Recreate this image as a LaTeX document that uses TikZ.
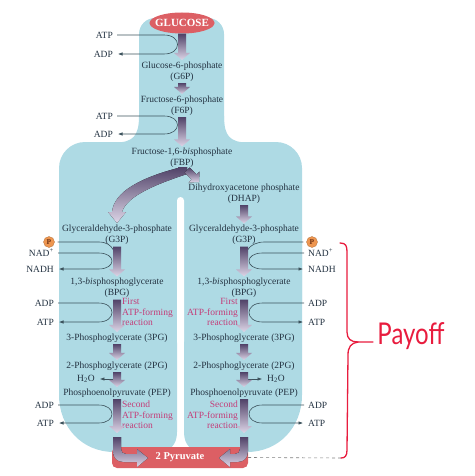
\documentclass[tikz,border=0pt]{standalone}
\usepackage{fontspec}
\setmainfont{Liberation Serif}
\newfontfamily\handfont{Lato}
\usetikzlibrary{shapes.geometric,arrows.meta,calc}

\definecolor{bgblue}{RGB}{174,218,228}
\definecolor{glured}{RGB}{220,95,100}
\definecolor{textc}{RGB}{35,50,65}
\definecolor{pinkt}{RGB}{196,60,120}
\definecolor{linec}{RGB}{60,82,92}
\definecolor{arrtop}{RGB}{80,66,104}
\definecolor{arrbot}{RGB}{222,214,232}
\definecolor{porange}{RGB}{238,150,80}
\definecolor{pbrown}{RGB}{110,50,20}
\definecolor{payred}{RGB}{232,28,62}

\tikzset{
  chem/.style={font=\fontsize{9.5}{11}\selectfont, text=textc, align=center, inner sep=1.5pt},
  side/.style={font=\fontsize{9.5}{11}\selectfont, text=textc, inner sep=1pt},
  pinklab/.style={font=\fontsize{9.5}{10.3}\selectfont, text=pinkt, inner sep=0pt},
  cycline/.style={draw=linec, line width=0.6pt, shorten <=3pt},
  cyctip/.style={cycline, -{Latex[length=4.5pt,width=3.5pt]}, shorten >=4pt},
  fatarr/.style={top color=arrtop, bottom color=arrbot},
  phos/.style={circle, fill=porange, draw=porange!75!black, line width=0.3pt,
    minimum size=11pt, inner sep=0pt, font=\fontsize{7.5}{7.5}\selectfont\bfseries, text=pbrown},
  glu/.style={ellipse, fill=glured, text=white, minimum width=65pt, minimum height=21pt,
    inner sep=0pt, font=\fontsize{11}{11}\selectfont\bfseries},
  pyrbar/.style={rectangle, rounded corners=5pt, fill=glured, text=white, minimum width=136pt,
    minimum height=21pt, font=\fontsize{10.5}{10.5}\selectfont\bfseries},
  payline/.style={draw=payred, line width=1.3pt, line cap=round},
}

% vertical gradient arrow from #1 down to #2
\newcommand{\fatarrow}[2]{%
  \path[fatarr] let \p1=#1, \p2=#2 in
    (\x1-4pt,\y1) -- (\x1+4pt,\y1) -- (\x1+4pt,\y2+7pt) -- (\x1+8pt,\y2+7pt)
    -- (\x1,\y2) -- (\x1-8pt,\y2+7pt) -- (\x1-4pt,\y2+7pt) -- cycle;}

\begin{document}
\begin{tikzpicture}[x=1pt,y=-1pt]
  \useasboundingbox (0,0) rectangle (474,476);

  % blue background
  \fill[bgblue, rounded corners=16] (139,160) -- (139,18) -- (224,18) -- (224,160) -- cycle;
  \fill[bgblue, rounded corners=26] (59,330) -- (59,142) -- (302,142) -- (302,330) -- cycle;
  \fill[bgblue] (139,116) .. controls (139,136) and (133,142.5) .. (115,142.5) -- (139,142.5) -- cycle;
  \fill[bgblue] (224,116) .. controls (224,136) and (230,142.5) .. (248,142.5) -- (224,142.5) -- cycle;
  \fill[bgblue] (59,230) -- (59,395) .. controls (59,427) and (82,452) .. (114,452) -- (157,452)
    .. controls (170,452) and (177,445) .. (177,432) -- (177,230) -- cycle;
  \fill[bgblue] (302,230) -- (302,395) .. controls (302,427) and (279,452) .. (247,452) -- (204,452)
    .. controls (191,452) and (184,445) .. (184,432) -- (184,230) -- cycle;
  \fill[white, rounded corners=3.5] (177,197) rectangle (184,345);

  % compounds
  \node[glu] (glucose) at (182,23) {\makebox[0pt]{GLUCOSE}};
  \node[chem] (g6p) at (182,71.5) {Glucose-6-phosphate\\(G6P)};
  \node[chem] (f6p) at (182,105.5) {Fructose-6-phosphate\\(F6P)};
  \node[chem] (fbp) at (182,158) {Fructose-1,6-\textit{bis}phosphate\\(FBP)};
  \node[chem] (dhap) at (244,193.5) {Dihydroxyacetone phosphate\\(DHAP)};
  \node[chem] (g3pl) at (117,235) {Glyceraldehyde-3-phosphate\\(G3P)};
  \node[chem] (g3pr) at (244,235) {Glyceraldehyde-3-phosphate\\(G3P)};
  \node[chem] (bpgl) at (117,288) {1,3-\textit{bis}phosphoglycerate\\(BPG)};
  \node[chem] (bpgr) at (244,288) {1,3-\textit{bis}phosphoglycerate\\(BPG)};
  \node[chem] (p3l) at (117,338) {3-Phosphoglycerate (3PG)};
  \node[chem] (p3r) at (244,338) {3-Phosphoglycerate (3PG)};
  \node[chem] (p2l) at (117,366) {2-Phosphoglycerate (2PG)};
  \node[chem] (p2r) at (244,366) {2-Phosphoglycerate (2PG)};
  \node[chem] (pepl) at (117,393) {Phosphoenolpyruvate (PEP)};
  \node[chem] (pepr) at (244,393) {Phosphoenolpyruvate (PEP)};
  \node[pyrbar] (pyr) at (180,457.5) {2 Pyruvate};
  \coordinate (endl) at (117,433);
  \coordinate (endr) at (244,433);

  % side products
  \node[side, anchor=east] (atp1) at (114,35) {ATP};
  \node[side, anchor=east] (adp1) at (114,54) {ADP};
  \node[side, anchor=east] (atp2) at (114,116) {ATP};
  \node[side, anchor=east] (adp2) at (114,134) {ADP};
  \node[phos] (pl) at (49,242) {P};
  \node[side, anchor=east] (nadl) at (55,253) {NAD\textsuperscript{+}};
  \node[side, anchor=east] (nadhl) at (55,269) {NADH};
  \node[side, anchor=east] (adpl1) at (55,303) {ADP};
  \node[side, anchor=east] (atpl1) at (55,322) {ATP};
  \node[side] (h2ol) at (86,379) {H\textsubscript{2}O};
  \node[side, anchor=east] (adpl2) at (55,405) {ADP};
  \node[side, anchor=east] (atpl2) at (55,423) {ATP};
  \node[phos] (pr) at (312,242) {P};
  \node[side, anchor=west] (nadr) at (307,253) {NAD\textsuperscript{+}};
  \node[side, anchor=west] (nadhr) at (307,269) {NADH};
  \node[side, anchor=west] (adpr1) at (307,303) {ADP};
  \node[side, anchor=west] (atpr1) at (307,322) {ATP};
  \node[side] (h2or) at (276,379) {H\textsubscript{2}O};
  \node[side, anchor=west] (adpr2) at (307,405) {ADP};
  \node[side, anchor=west] (atpr2) at (307,423) {ATP};

  \node[pinklab, anchor=west, align=left] (firstl) at (122,312) {First\\ATP-forming\\reaction};
  \node[pinklab, anchor=east, align=right] (firstr) at (238,312) {First\\ATP-forming\\reaction};
  \node[pinklab, anchor=west, align=left] (secondl) at (122,415) {Second\\ATP-forming\\reaction};
  \node[pinklab, anchor=east, align=right] (secondr) at (238,415) {Second\\ATP-forming\\reaction};

  % coupled reactions
  \draw[cyctip] (atp1.east) -- ++(50,0) .. controls +(18,0) and +(18,0) .. ($(adp1.east)+(50,0)$) -- (adp1.east);
  \draw[cyctip] (atp2.east) -- ++(50,0) .. controls +(18,0) and +(18,0) .. ($(adp2.east)+(50,0)$) -- (adp2.east);
  \draw[cycline] (pl.east) -- ++(44,0) .. controls +(8,0) and +(-2,-4) .. ($(g3pl.south)+(-4,3)$);
  \draw[cyctip] (nadl.east) -- ++(43.5,0) .. controls +(18,0) and +(18,0) .. ($(nadhl.east)+(43.5,0)$) -- (nadhl.east);
  \draw[cyctip] (adpl1.east) -- ++(43.5,0) .. controls +(18,0) and +(18,0) .. ($(atpl1.east)+(43.5,0)$) -- (atpl1.east);
  \draw[cyctip] (adpl2.east) -- ++(43.5,0) .. controls +(18,0) and +(18,0) .. ($(atpl2.east)+(43.5,0)$) -- (atpl2.east);
  \draw[cycline] (pr.west) -- ++(-42,0) .. controls +(-8,0) and +(2,-4) .. ($(g3pr.south)+(4,3)$);
  \draw[cyctip] (nadr.west) -- ++(-44.5,0) .. controls +(-18,0) and +(-18,0) .. ($(nadhr.west)+(-44.5,0)$) -- (nadhr.west);
  \draw[cyctip] (adpr1.west) -- ++(-44.5,0) .. controls +(-18,0) and +(-18,0) .. ($(atpr1.west)+(-44.5,0)$) -- (atpr1.west);
  \draw[cyctip] (adpr2.west) -- ++(-44.5,0) .. controls +(-18,0) and +(-18,0) .. ($(atpr2.west)+(-44.5,0)$) -- (atpr2.west);
  \draw[cyctip, shorten <=0pt] ($(p2l.south |- h2ol.east)+(-4,0)$) -- (h2ol.east);
  \draw[cyctip, shorten <=0pt] ($(p2r.south |- h2or.west)+(4,0)$) -- (h2or.west);

  % main arrows
  \fatarrow{(glucose.south)}{(g6p.north)}
  \fatarrow{(g6p.south)}{(f6p.north)}
  \fatarrow{(f6p.south)}{(fbp.north)}
  \fatarrow{(dhap.south)}{(g3pr.north)}
  \fatarrow{(g3pl.south)}{(bpgl.north)}
  \fatarrow{(g3pr.south)}{(bpgr.north)}
  \fatarrow{(bpgl.south)}{(p3l.north)}
  \fatarrow{(bpgr.south)}{(p3r.north)}
  \fatarrow{(p3l.south)}{(p2l.north)}
  \fatarrow{(p3r.south)}{(p2r.north)}
  \fatarrow{(p2l.south)}{(pepl.north)}
  \fatarrow{(p2r.south)}{(pepr.north)}
  \fatarrow{(pepl.south)}{(endl)}
  \fatarrow{(pepr.south)}{(endr)}

  % split of FBP
  \fill[fatarr] (178,167) -- (187,167) -- (187,174) .. controls (160,183) and (127,195) .. (122,212)
    -- (126,212) -- (117,223) -- (108,212) -- (112,212) .. controls (114,192) and (140,178) .. (178,168) -- cycle;
  \fill[fatarr] (189.5,167.5) -- (196.5,174.5) -- (199.5,171.5) -- (199,182) -- (188.5,182.5)
    -- (191.5,179.5) -- (184.5,172.5) -- cycle;

  % into pyruvate
  \fill[fatarr] (113,437) -- (121,437) -- (121,449) .. controls (121,452) and (123,454) .. (126,454)
    -- (137,454) -- (137,449) -- (148,458) -- (137,467) -- (137,462) -- (124,462)
    .. controls (117,462) and (113,458) .. (113,451) -- cycle;
  \fill[fatarr] (248,437) -- (240,437) -- (240,449) .. controls (240,452) and (238,454) .. (235,454)
    -- (230,454) -- (230,449) -- (219,458) -- (230,467) -- (230,462) -- (237,462)
    .. controls (244,462) and (248,458) .. (248,451) -- cycle;

  % payoff brace
  \coordinate (brb) at (341,458);
  \draw[dashed, gray, line width=0.6pt] (pyr.east) -- (brb);
  \draw[payline] (340,243) .. controls (346,243) and (347,246) .. (347,252) -- (347,332)
    .. controls (347,339) and (351,342) .. (358,342) -- (373,342);
  \draw[payline] (358,342) .. controls (351,343) and (348,347) .. (348,355) -- (347,450)
    .. controls (347,456) and (345,458) .. (brb);
  \node[text=payred, font=\handfont\fontsize{30}{30}\selectfont, xscale=0.8] (payoff) at (411,336) {Payoff};
\end{tikzpicture}
\end{document}
